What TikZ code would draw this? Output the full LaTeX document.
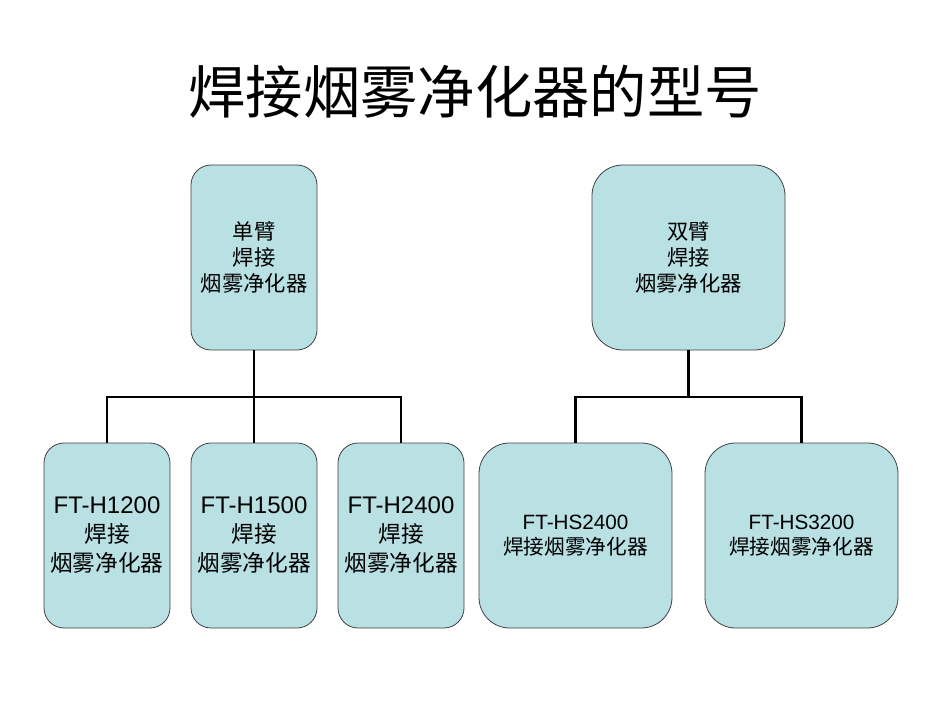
\documentclass[tikz,border=0pt]{standalone}
\usepackage{fontspec}
\setmainfont{Noto Sans CJK SC}
\newfontfamily\latin{Liberation Sans}
\usetikzlibrary{positioning}
\definecolor{boxfill}{RGB}{185,224,227}
\definecolor{boxline}{RGB}{64,64,64}
\tikzset{
mybox/.style={
  draw=boxline,
  fill=boxfill,
  line width=0.6pt,
  rounded corners=15pt,
  align=center,
  inner sep=0pt,
  minimum width=94.5pt,
  minimum height=138.75pt,
  font=\fontsize{17}{21.75}\selectfont
  },
myboxw/.style={
  mybox,
  rounded corners=23pt,
  minimum width=144.75pt,
  font=\fontsize{15.5}{18.75}\selectfont
  },
myline/.style={
  line width=2.2pt
  }
}

\begin{document}
\begin{tikzpicture}[x=0.75pt,y=-0.75pt]

\useasboundingbox (0,0) rectangle (950,713);

\node[font=\fontsize{43}{50}\selectfont] (title) at (475,92) {焊接烟雾净化器的型号};

\node[mybox,font=\fontsize{16}{19.5}\selectfont] (single) at (254,257.5) {单臂\\焊接\\烟雾净化器};
\node[myboxw,font=\fontsize{16}{19.5}\selectfont] (double) at (688.5,257.5) {双臂\\焊接\\烟雾净化器};

\node[mybox] (h1200) at (107,535.5) {{\latin\fontsize{18}{21.75}\selectfont FT-H1200}\\焊接\\烟雾净化器};
\node[mybox] (h1500) at (254,535.5) {{\latin\fontsize{18}{21.75}\selectfont FT-H1500}\\焊接\\烟雾净化器};
\node[mybox] (h2400) at (401,535.5) {{\latin\fontsize{18}{21.75}\selectfont FT-H2400}\\焊接\\烟雾净化器};

\node[myboxw] (hs2400) at (575.5,535.5) {{\latin FT-HS2400}\\焊接烟雾净化器};
\node[myboxw] (hs3200) at (801.5,535.5) {{\latin FT-HS3200}\\焊接烟雾净化器};

\coordinate (bus1) at (254,397);
\coordinate (bus2) at (688.5,397);

\draw[myline] (single.south) -- (bus1);
\draw[myline] (h1200.north) |- (bus1) -| (h2400.north);
\draw[myline] (bus1) -- (h1500.north);

\draw[myline] (double.south) -- (bus2);
\draw[myline] (hs2400.north) |- (bus2) -| (hs3200.north);

\end{tikzpicture}
\end{document}
